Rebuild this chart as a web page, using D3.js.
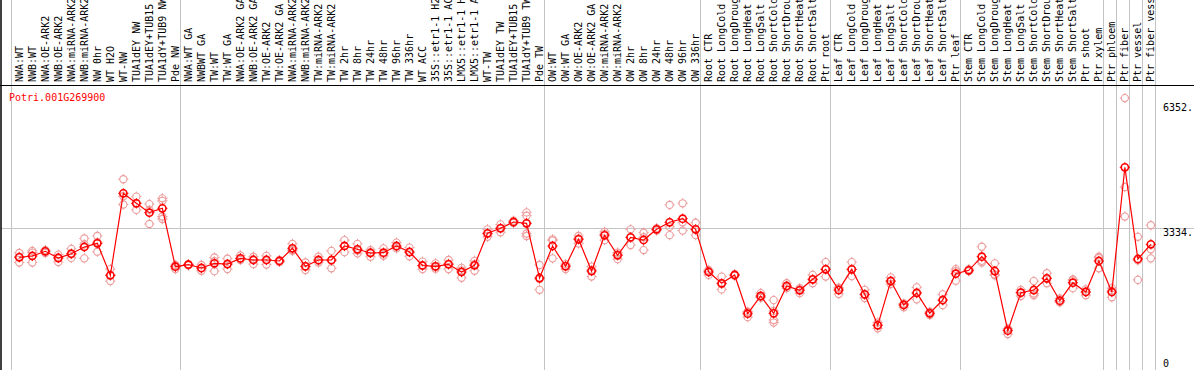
<!DOCTYPE html>
<html>
<head>
<meta charset="utf-8">
<script src="https://cdn.jsdelivr.net/npm/d3@7"></script>
<style>
  html, body { margin: 0; padding: 0; background: #fff; }
  svg { display: block; }
  text { font-family: "DejaVu Sans Mono", monospace; font-size: 10px; }
</style>
</head>
<body>
<svg></svg>
<script>
const width = 1194;
const height = 370;

const geneId = "Potri.001G269900";

// sample names, left to right (as far as the header shows them)
const samples = [
  "NWA:WT", "NWB:WT", "NWA:OE-ARK2", "NWB:OE-ARK2", "NWA:miRNA-ARK2", "NWB:miRNA-ARK2",
  "NW 0hr", "WT H2O", "WT-NW", "TUA1dEY NW", "TUA1dEY+TUB15", "TUA1dY+TUB9 NW", "Pde NW",
  "NWA:WT GA", "NWBWT GA", "TW:WT", "TW:WT GA", "NWA:OE-ARK2 GA", "NWB:OE-ARK2 GA",
  "TW:OE-ARK2", "TW:OE-ARK2 GA", "NWA:miRNA-ARK2", "NWB:miRNA-ARK2", "TW:miRNA-ARK2",
  "TW:miRNA-ARK2", "TW 2hr", "TW 8hr", "TW 24hr", "TW 48hr", "TW 96hr", "TW 336hr",
  "WT ACC", "35S::etr1-1 H2", "35S::etr1-1 AC", "LMX5::etr1-1 H", "LMX5::etr1-1 A",
  "WT-TW", "TUA1dEY TW", "TUA1dEY+TUB15", "TUA1dY+TUB9 TW", "Pde TW",
  "OW:WT", "OW:WT GA", "OW:OE-ARK2", "OW:OE-ARK2 GA", "OW:miRNA-ARK2", "OW:miRNA-ARK2",
  "OW 2hr", "OW 8hr", "OW 24hr", "OW 48hr", "OW 96hr", "OW 336hr",
  "Root CTR", "Root LongCold", "Root LongDroug", "Root LongHeat", "Root LongSalt",
  "Root ShortCold", "Root ShortDrou", "Root ShortHeat", "Root ShortSalt", "Ptr root",
  "Leaf CTR", "Leaf LongCold", "Leaf LongDroug", "Leaf LongHeat", "Leaf LongSalt",
  "Leaf ShortCold", "Leaf ShortDrou", "Leaf ShortHeat", "Leaf ShortSalt", "Ptr leaf",
  "Stem CTR", "Stem LongCold", "Stem LongDroug", "Stem LongHeat", "Stem LongSalt",
  "Stem ShortCold", "Stem ShortDrou", "Stem ShortHeat", "Stem ShortSalt",
  "Ptr shoot", "Ptr xylem", "Ptr phloem", "Ptr fiber", "Ptr vessel", "Ptr fiber vess"
];

// mean expression per sample
const means = [
  2625, 2657, 2770, 2608, 2712, 2874, 2963, 2191, 4171, 3929, 3703, 3809, 2398,
  2447, 2367, 2480, 2463, 2600, 2560, 2560, 2536, 2843, 2408, 2560, 2560, 2898,
  2819, 2729, 2736, 2898, 2753, 2427, 2408, 2456, 2270, 2432, 3205, 3326, 3478,
  3446, 2125, 2898, 2408, 3060, 2294, 3157, 2674, 3108, 3043, 3302, 3471, 3558,
  3302, 2270, 1997, 2198, 1263, 1691, 1273, 1932, 1828, 2094, 2335, 1835, 2335,
  1732, 983, 2053, 1473, 1763, 1273, 1594, 2229, 2311, 2640, 2294, 853, 1770,
  1835, 2118, 1577, 2012, 1787, 2536, 1787, 4799, 2584, 2939
];

// individual replicates per sample
const replicates = [
  [2730, 2500, 2640], [2780, 2500, 2740], [2800, 2730, 2780], [2690, 2510, 2620],
  [2830, 2610, 2700], [3080, 2600, 2940], [3140, 2760, 2990], [2340, 2050, 2190],
  [4510, 3900, 4100], [4090, 3770, 3930], [3910, 3430, 3770], [4050, 3990, 3610, 3550],
  [2440, 2340, 2410], [2460, 2430, 2450], [2440, 2300, 2360], [2620, 2290, 2530],
  [2590, 2340, 2460], [2670, 2560, 2600], [2640, 2460, 2580], [2660, 2450, 2570],
  [2560, 2510, 2540], [2950, 2800, 2780], [2500, 2320, 2400], [2640, 2500, 2540],
  [2780, 2360, 2540], [3040, 2750, 2900], [2950, 2720, 2790], [2800, 2640, 2750],
  [2840, 2660, 2710], [2980, 2840, 2870], [2860, 2650, 2750], [2520, 2340, 2420],
  [2480, 2390, 2350], [2560, 2340, 2470], [2370, 2130, 2310], [2540, 2300, 2460],
  [3300, 3120, 3190], [3420, 3230, 3330], [3510, 3450, 3470], [3710, 3630, 3440, 3200, 3140],
  [2440, 1840, 2100], [3060, 2600, 3030], [2460, 2340, 2420], [3140, 2960, 3080],
  [2400, 2160, 2320], [3240, 3040, 3190], [2740, 2580, 2700], [3300, 2920, 3100],
  [3220, 2800, 3110], [3330, 3270, 3300], [3890, 3160, 3360], [3930, 3270, 3470],
  [3460, 3160, 3290], [2320, 2200, 2290], [2160, 1850, 1980], [2220, 2180, 2190],
  [1180, 1300, 1310], [1760, 1660, 1650], [1590, 1110, 1050, 1330], [2000, 1880, 1920],
  [1760, 1880, 1850], [2200, 2000, 2080], [2510, 2160, 2340], [1740, 1880, 1890],
  [2510, 2170, 2330], [1840, 1640, 1720], [1050, 910, 990], [2140, 1980, 2040],
  [1510, 1420, 1490], [1900, 1610, 1780], [1310, 1230, 1280], [1730, 1470, 1580],
  [2340, 2060, 2290], [2340, 2300, 2290], [2880, 2500, 2540], [2480, 2190, 2210],
  [770, 900, 890], [1840, 1690, 1780], [2050, 1710, 1750], [2240, 2000, 2110],
  [1630, 1540, 1560], [2090, 1880, 2070], [1850, 1710, 1800], [2640, 2360, 2610],
  [1880, 1660, 1820], [6470, 4320, 3610], [3120, 2080, 2550], [3400, 2820, 2600]
];

// last sample of each group (a divider is drawn after it)
const groupEnds = ["Pde NW", "Pde TW", "OW 336hr", "Ptr root", "Ptr leaf",
  "Ptr xylem", "Ptr phloem", "Ptr fiber", "Ptr vessel", "Ptr fiber vess"];

const yTicks = [0, 3334, 6352];
const yMax = 6352;

const svg = d3.select("svg")
  .attr("width", width)
  .attr("height", height);

const x = d3.scaleBand()
  .domain(d3.range(samples.length))
  .range([10.7, 1155.3])
  .paddingInner(0)
  .paddingOuter(0);

const px = i => x(i) + x.bandwidth() * 0.66;

const y = d3.scaleLinear()
  .domain([0, yMax])
  .range([366, 103]);

// vertical dividers
const dividers = [x(0)].concat(
  d3.range(samples.length)
    .filter(i => groupEnds.includes(samples[i]))
    .map(i => x(i) + x.bandwidth())
);

svg.append("g")
  .selectAll("line")
  .data(dividers)
  .enter().append("line")
  .attr("x1", d => Math.round(d) + 0.5)
  .attr("x2", d => Math.round(d) + 0.5)
  .attr("y1", 0)
  .attr("y2", height)
  .attr("stroke", "#c4c4c4")
  .attr("stroke-width", 1);

// horizontal grid line
svg.append("g")
  .selectAll("line")
  .data(yTicks.filter(t => t !== 0 && t !== yMax))
  .enter().append("line")
  .attr("x1", 1)
  .attr("x2", width)
  .attr("y1", d => Math.round(y(d)) + 0.5)
  .attr("y2", d => Math.round(y(d)) + 0.5)
  .attr("stroke", "#c4c4c4");

// frame lines
svg.append("line")
  .attr("x1", 0).attr("x2", width)
  .attr("y1", 85.5).attr("y2", 85.5)
  .attr("stroke", "#000");
svg.append("line")
  .attr("x1", 1).attr("x2", 1)
  .attr("y1", 0).attr("y2", height)
  .attr("stroke", "#000")
  .attr("stroke-width", 1.5);

// sample labels
svg.append("g")
  .selectAll("text")
  .data(samples)
  .enter().append("text")
  .attr("transform", (d, i) => `translate(${px(i) + 3.5},82) rotate(-90)`)
  .attr("fill", "#000")
  .text(d => d);

// y labels on the right
svg.append("g")
  .selectAll("text")
  .data(yTicks)
  .enter().append("text")
  .attr("x", 1163)
  .attr("y", d => Math.min(y(d) + 8, 366.5))
  .attr("fill", "#000")
  .text(d => d === 0 ? "0" : d + ".");

// gene id
svg.append("text")
  .attr("x", 9)
  .attr("y", 100.5)
  .attr("fill", "#ff0000")
  .text(geneId);

function marker(sel, color, sw) {
  const r = 3.6;
  sel.append("circle")
    .attr("r", r)
    .attr("fill", "none")
    .attr("stroke", color)
    .attr("stroke-width", sw);
  sel.append("path")
    .attr("d", `M${-r - 1.5},0h1.5M${r},0h1.5M0,${-r - 1.5}v1.5M0,${r}v1.5`)
    .attr("stroke", color)
    .attr("stroke-width", 1);
}

// replicates
const reps = [];
replicates.forEach((arr, i) => arr.forEach(v => reps.push({ i: i, v: v })));

svg.append("g")
  .selectAll("g")
  .data(reps)
  .enter().append("g")
  .attr("transform", d => `translate(${px(d.i)},${y(d.v)})`)
  .call(marker, "#ec9c9c", 1.1);

// mean line
svg.append("path")
  .datum(means)
  .attr("fill", "none")
  .attr("stroke", "#ff0000")
  .attr("stroke-width", 1.2)
  .attr("d", d3.line().x((d, i) => px(i)).y(d => y(d)));

// mean markers
svg.append("g")
  .selectAll("g")
  .data(means)
  .enter().append("g")
  .attr("transform", (d, i) => `translate(${px(i)},${y(d)})`)
  .call(marker, "#ff0000", 1.6);
</script>
</body>
</html>
